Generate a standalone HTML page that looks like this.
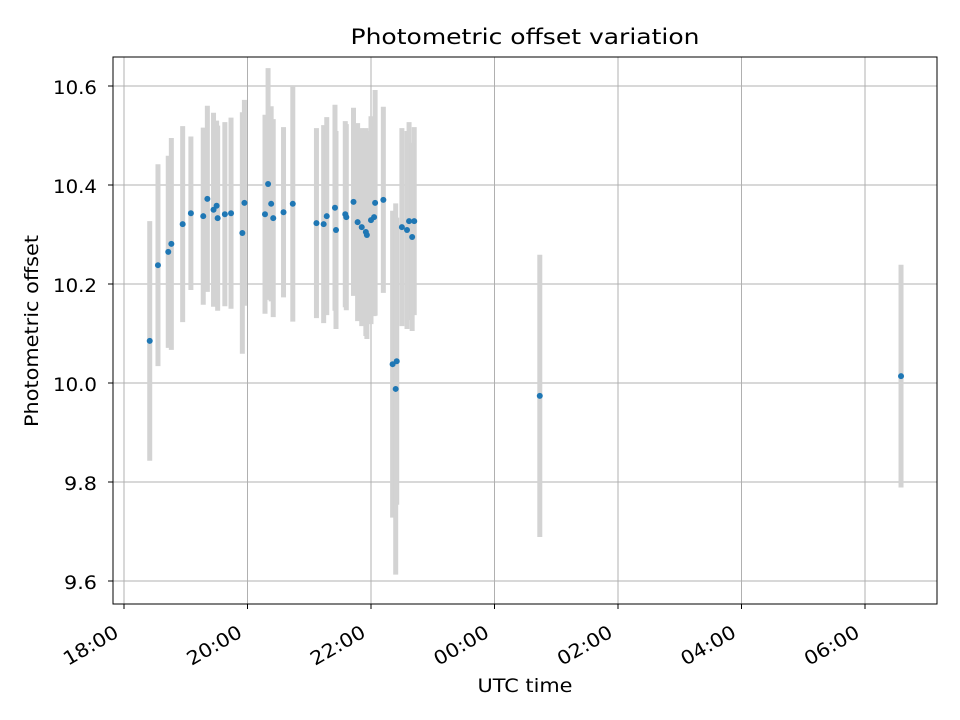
<!DOCTYPE html>
<html><head><meta charset="utf-8"><style>
body{margin:0;background:#fff;}
svg{display:block;font-family:"DejaVu Sans","Liberation Sans",sans-serif;}
</style></head><body>
<svg id="chart" width="960" height="720">
<rect x="0" y="0" width="960" height="720" fill="#fff"/>
<g id="grid"></g><g id="errs"></g><g id="pts"></g><g id="axes"></g>
<text x="525" y="44" text-anchor="middle" font-size="21" textLength="349" lengthAdjust="spacingAndGlyphs">Photometric offset variation</text>
<text x="525" y="692" text-anchor="middle" font-size="19" textLength="95" lengthAdjust="spacingAndGlyphs">UTC time</text>
<text transform="translate(38,331) rotate(-90)" text-anchor="middle" font-size="19" textLength="192" lengthAdjust="spacingAndGlyphs">Photometric offset</text>
</svg>
<script>
// minutes since 18:00 UTC
const times=[25,33,43,46,57,65,77,81,87,90,91,98,104,115,117,137,140,143,145,155,164,187,194,197,205,206,215,216,223,227,231,235,236,240,243,244,252,261,265,264,270,275,277,282,280,404,755];
const values=[10.085,10.238,10.265,10.281,10.321,10.343,10.337,10.372,10.35,10.358,10.333,10.341,10.343,10.303,10.364,10.341,10.402,10.362,10.333,10.345,10.362,10.323,10.321,10.337,10.354,10.309,10.341,10.335,10.366,10.325,10.315,10.305,10.299,10.329,10.335,10.364,10.37,10.038,10.044,9.988,10.315,10.309,10.327,10.327,10.295,9.974,10.014];
const errors=[0.242,0.204,0.194,0.214,0.198,0.155,0.179,0.188,0.196,0.172,0.187,0.186,0.193,0.244,0.208,0.201,0.234,0.197,0.2,0.172,0.238,0.192,0.2,0.2,0.208,0.2,0.188,0.188,0.19,0.2,0.2,0.21,0.21,0.21,0.2,0.228,0.188,0.31,0.29,0.375,0.2,0.2,0.2,0.19,0.19,0.285,0.225];
const xTickMins=[0,120,240,360,480,600,720];
const xTickLabels=["18:00","20:00","22:00","00:00","02:00","04:00","06:00"];
const yTicks=[9.6,9.8,10.0,10.2,10.4,10.6];
const L=113,R=937,T=57,B=604;
const xs=m=>124+m*(123.5/120);
const ys=v=>86+(10.6-v)*495;
const NS="http://www.w3.org/2000/svg";
function mk(tag,attrs,parent){const e=document.createElementNS(NS,tag);for(const k in attrs)e.setAttribute(k,attrs[k]);document.getElementById(parent).appendChild(e);return e;}
xTickMins.forEach((m,i)=>{
  const x=xs(m);
  const g=mk('line',{x1:x,x2:x,y1:T,y2:B,stroke:'#b0b0b0','stroke-width':1},'grid');
  
  
  mk('line',{x1:x,x2:x,y1:B,y2:B+5,stroke:'#000'},'axes');
  const t=mk('text',{x:x-4,y:B+32,'font-size':19,'text-anchor':'end',textLength:60,lengthAdjust:'spacingAndGlyphs',transform:`rotate(-30 ${x-4} ${B+32})`},'axes');
  t.textContent=xTickLabels[i];
  
  
});
yTicks.forEach(v=>{
  const y=ys(v);
  const g=mk('line',{x1:L,x2:R,y1:y,y2:y,stroke:'#b0b0b0','stroke-width':1},'grid');
  
  
  mk('line',{x1:L-5,x2:L,y1:y,y2:y,stroke:'#000'},'axes');
  const lbl=v.toFixed(1);
  const t=mk('text',{x:97,y:y+8,'font-size':19,'text-anchor':'end',textLength:lbl.length===4?44:33,lengthAdjust:'spacingAndGlyphs'},'axes');
  t.textContent=lbl;
  
  
});
const fr=mk('rect',{x:L,y:T,width:R-L,height:B-T,fill:'none',stroke:'#000','stroke-width':1},'axes');


times.forEach((m,i)=>{
  const x=xs(m);
  const e=mk('line',{x1:x,x2:x,y1:ys(values[i]+errors[i]),y2:ys(values[i]-errors[i]),stroke:'#d3d3d3','stroke-width':5},'errs');
  
  
  const p=mk('circle',{cx:x,cy:ys(values[i]),r:3,fill:'#1f77b4'},'pts');
  
  
});
</script>
</body></html>
